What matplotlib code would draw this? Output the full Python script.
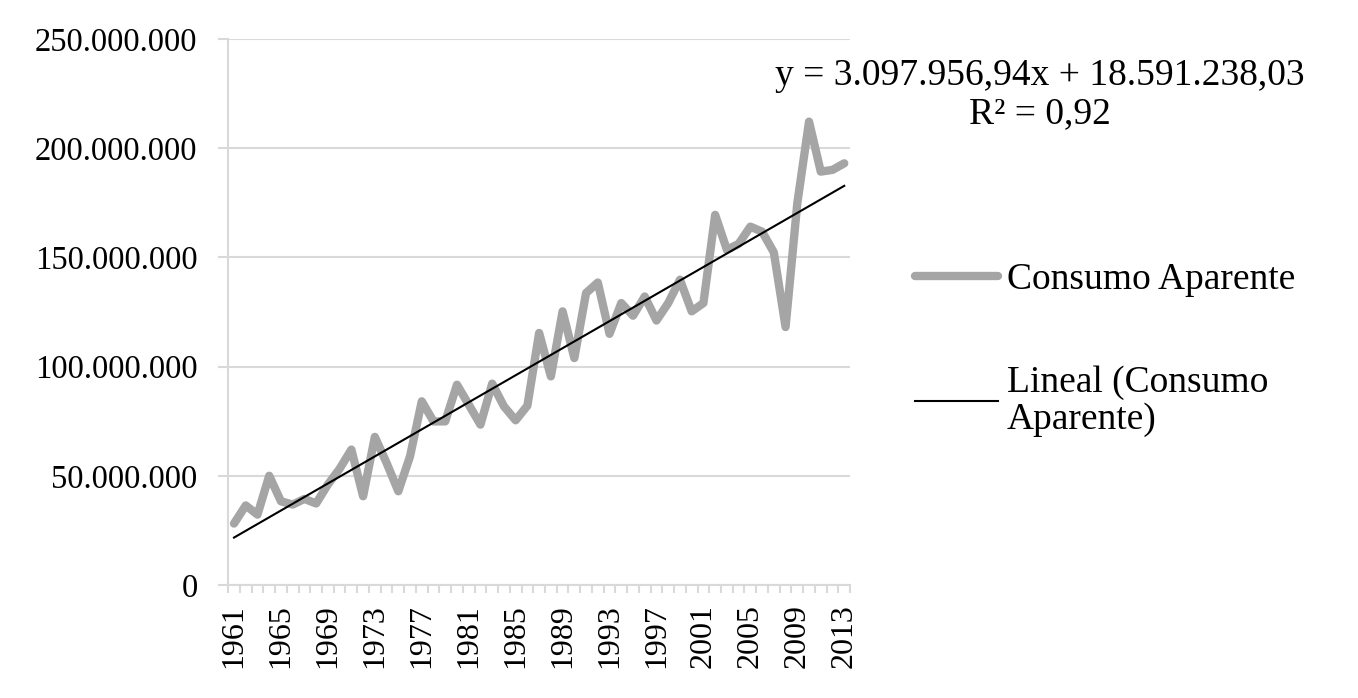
import matplotlib
matplotlib.use("Agg")
import matplotlib.pyplot as plt
from matplotlib.ticker import FuncFormatter, FixedLocator
import numpy as np

plt.rcParams['font.family'] = ['Liberation Serif', 'DejaVu Serif']

# Data
years = list(range(1961, 2014))
consumo = [
    28.1, 36.4, 32.2, 50.0, 38.3, 36.8, 39.4, 37.3, 46.0, 53.2,
    62.0, 40.6, 67.8, 55.9, 42.9, 58.9, 84.1, 74.9, 74.9, 91.7,
    82.6, 73.4, 92.2, 81.8, 75.4, 82.1, 115.4, 95.5, 125.3, 103.9,
    133.7, 138.5, 115.0, 129.1, 123.3, 132.1, 121.1, 129.1, 139.8, 125.3,
    129.1, 169.5, 153.5, 156.2, 164.1, 161.8, 152.3, 118.1, 174.8, 212.2,
    189.3, 190.1, 193.1,
]
consumo = [v * 1e6 for v in consumo]

# trend line as given on the chart (x = 1..n)
slope = 3097956.94
intercept = 18591238.03
r2_label = "0,92"

idx = np.arange(len(years))
trend = slope * (idx + 1) + intercept

fig = plt.figure(figsize=(13.58, 6.98), dpi=100)
ax = fig.add_axes([0.168, 0.162, 0.458, 0.782])

grid_col = '#d9d9d9'
ax.plot(idx, consumo, color='#a5a5a5', lw=6, solid_joinstyle='round',
        solid_capstyle='round', label='Consumo Aparente', zorder=3)
ax.plot(idx, trend, color='black', lw=1.5, label='Lineal (Consumo\nAparente)', zorder=4)

ax.set_xlim(-0.5, len(years) - 0.5)
ax.set_ylim(0, 250e6)
ax.set_yticks(np.arange(0, 250e6 + 1, 50e6))
ax.yaxis.set_major_formatter(FuncFormatter(lambda v, p: f"{int(v):,}".replace(',', '.')))
ax.grid(axis='y', color=grid_col, lw=1.5, zorder=0)

# category axis: labels every 4 years, tick marks between categories
ax.xaxis.set_major_locator(FixedLocator(idx[::4]))
ax.set_xticklabels([str(y) for y in years[::4]], rotation=90)
ax.xaxis.set_minor_locator(FixedLocator(np.arange(-0.5, len(years), 1.0)))
ax.tick_params(axis='x', which='major', length=0, pad=14, labelsize=23)
ax.tick_params(axis='x', which='minor', length=6, width=1.5, color=grid_col)
ax.tick_params(axis='y', length=7, width=1.5, color=grid_col, labelsize=23.5, pad=15)

for s in ['top', 'right']:
    ax.spines[s].set_visible(False)
for s in ['left', 'bottom']:
    ax.spines[s].set_color(grid_col)
    ax.spines[s].set_linewidth(1.5)

fig.text(1040 / 1358, 1 - 95 / 698,
         f"y = 3.097.956,94x + 18.591.238,03\nR² = {r2_label}",
         ha='center', va='center', multialignment='center', fontsize=27,
         linespacing=1.12)

leg = ax.legend(loc='center left', bbox_to_anchor=(1.081, 0.43), frameon=False,
                fontsize=27, handlelength=2.2, handletextpad=0.24,
                labelspacing=1.8, borderaxespad=0)
for t in leg.get_texts():
    t.set_linespacing(1.12)

fig.savefig('out.png', dpi=100)
